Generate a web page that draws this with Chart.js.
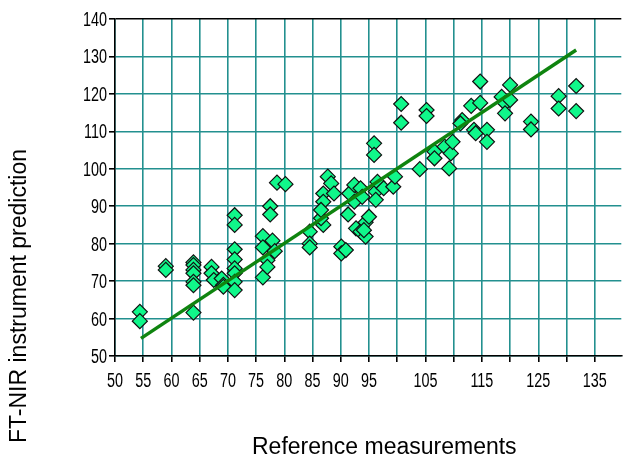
<!DOCTYPE html>
<html>
<head>
<meta charset="utf-8">
<script src="https://cdn.jsdelivr.net/npm/chart.js@4/dist/chart.umd.min.js"></script>
<style>
  body { margin: 0; background: #fff; }
  #wrap { width: 630px; height: 459px; }
</style>
</head>
<body>
<div id="wrap"><canvas id="nir" width="630" height="459"></canvas></div>
<script>
// reference values (x) and instrument predictions (y)
const refX = [
  54.4, 54.4, 59.0, 59.0,
  63.9, 63.9, 63.9, 63.9, 63.9, 63.9, 63.9,
  67.1, 67.1, 67.5, 68.9, 69.2, 69.2,
  71.2, 71.2, 71.2, 71.2, 71.2, 71.2, 71.2, 71.2,
  76.2, 76.2, 76.2, 77.0, 77.0, 77.5, 77.5, 77.9, 78.3, 78.7, 80.2,
  84.5, 84.5, 84.5, 86.9, 86.9, 86.9, 86.5, 86.5, 87.7, 88.3, 88.8,
  90.1, 90.1, 90.9, 91.3, 91.5, 92.4, 92.4, 93.5, 93.8, 92.7, 93.5,
  94.4, 94.4, 94.1, 95.0, 96.2, 96.2, 96.5, 97.6, 99.3, 99.6,
  95.9, 95.9, 100.7, 100.7, 104.0, 105.2, 105.2, 106.6, 106.6,
  108.4, 109.5, 109.8, 109.2, 111.5, 111.2, 113.1, 114.7, 114.7,
  113.6, 113.9, 115.9, 115.9, 118.5, 119.1, 119.1, 120.0, 120.0,
  123.7, 123.7, 128.6, 128.6, 131.7, 131.7
];
const predY = [
  61.8, 59.3, 74.0, 73.0,
  75.0, 74.3, 73.0, 72.1, 69.8, 68.9, 61.6,
  73.8, 72.1, 70.3, 70.7, 69.0, 68.5,
  87.6, 85.0, 78.5, 75.8, 73.4, 72.1, 69.8, 67.6,
  82.0, 79.0, 71.0, 75.6, 73.8, 90.0, 87.8, 80.8, 78.0, 96.3, 95.9,
  83.2, 80.0, 79.0, 93.4, 91.2, 85.0, 86.8, 89.0, 97.9, 96.1, 93.4,
  79.2, 77.4, 78.3, 87.8, 93.4, 95.7, 91.2, 94.8, 92.5, 84.1, 83.2,
  81.9, 85.7, 83.6, 87.2, 93.9, 91.7, 96.5, 94.8, 95.2, 97.9,
  106.8, 103.7, 117.3, 112.3, 99.9, 115.7, 114.1, 104.6, 102.8,
  105.9, 104.1, 107.2, 100.1, 113.0, 112.1, 116.8, 117.6, 123.3,
  110.4, 109.5, 110.4, 107.2, 119.2, 117.5, 114.8, 122.4, 118.4,
  112.6, 110.5, 119.4, 116.1, 122.1, 115.4
];

// fitted line end points
const fitX = [54.6, 131.7];
const fitY = [54.7, 131.7];

// tick labels that are printed (other ticks stay blank)
const xTickLabels = [50, 55, 60, 65, 70, 75, 80, 85, 90, 95, 105, 115, 125, 135];
const yTickLabels = [50, 60, 70, 80, 90, 100, 110, 120, 130, 140];

const xTitle = 'Reference measurements';
const yTitle = 'FT-NIR instrument prediction';

const teal = '#23908f';

// tick labels drawn in a squeezed font, like the narrow font of the original
const narrowTicks = {
  id: 'narrowTicks',
  afterDraw(chart) {
    const ctx = chart.ctx;
    const xs = chart.scales.x, ys = chart.scales.y;
    ctx.save();
    ctx.fillStyle = '#000';
    ctx.font = '20px "Liberation Sans", Arial, sans-serif';
    ctx.textBaseline = 'alphabetic';
    xTickLabels.forEach(v => {
      ctx.save();
      ctx.translate(xs.getPixelForValue(v), 387);
      ctx.scale(0.72, 1);
      ctx.textAlign = 'center';
      ctx.fillText(String(v), 0, 0);
      ctx.restore();
    });
    yTickLabels.forEach(v => {
      ctx.save();
      ctx.translate(107, ys.getPixelForValue(v) + 7);
      ctx.scale(0.72, 1);
      ctx.textAlign = 'right';
      ctx.fillText(String(v), 0, 0);
      ctx.restore();
    });
    ctx.restore();
  }
};

const axisTitles = {
  id: 'axisTitles',
  afterDraw(chart) {
    const ctx = chart.ctx;
    ctx.save();
    ctx.fillStyle = '#000';
    ctx.font = '23px "Liberation Sans", Arial, sans-serif';
    ctx.textBaseline = 'alphabetic';
    ctx.textAlign = 'left';
    ctx.fillText(xTitle, 252, 454);
    ctx.translate(26, 443);
    ctx.rotate(-Math.PI / 2);
    ctx.fillText(yTitle, 0, 0);
    ctx.restore();
  }
};

new Chart(document.getElementById('nir'), {
  type: 'scatter',
  data: {
    datasets: [
      {
        type: 'line',
        data: fitX.map((x, i) => ({ x: x, y: fitY[i] })),
        borderColor: '#0f840f',
        borderWidth: 3.5,
        pointRadius: 0,
        fill: false,
        order: 0
      },
      {
        data: refX.map((x, i) => ({ x: x, y: predY[i] })),
        pointStyle: 'rectRot',
        pointRadius: 7.5,
        backgroundColor: '#10f78a',
        borderColor: '#111',
        borderWidth: 1.2,
        order: 1
      }
    ]
  },
  options: {
    responsive: false,
    animation: false,
    layout: { padding: { top: 19, right: 0, left: 0, bottom: 0 } },
    plugins: { legend: { display: false }, tooltip: { enabled: false } },
    scales: {
      x: {
        type: 'linear',
        min: 50,
        max: 139.7,
        afterFit: s => { s.height = 103; },
        border: { color: '#000', width: 1.5 },
        grid: { color: teal, lineWidth: 1.6, tickColor: '#000', tickLength: 6 },
        ticks: {
          stepSize: 5,
          includeBounds: false,
          autoSkip: false,
          maxRotation: 0,
          color: 'rgba(0,0,0,0)',
          font: { size: 12 }
        }
      },
      y: {
        min: 50,
        max: 140,
        afterFit: s => { s.width = 115; },
        border: { color: '#000', width: 1.5 },
        grid: {
          color: c => c.tick && c.tick.value === 140 ? '#000' : teal,
          lineWidth: 1.6,
          tickColor: '#000',
          tickLength: 6
        },
        ticks: { stepSize: 10, color: 'rgba(0,0,0,0)', font: { size: 12 } }
      }
    }
  },
  plugins: [narrowTicks, axisTitles]
});
</script>
</body>
</html>
